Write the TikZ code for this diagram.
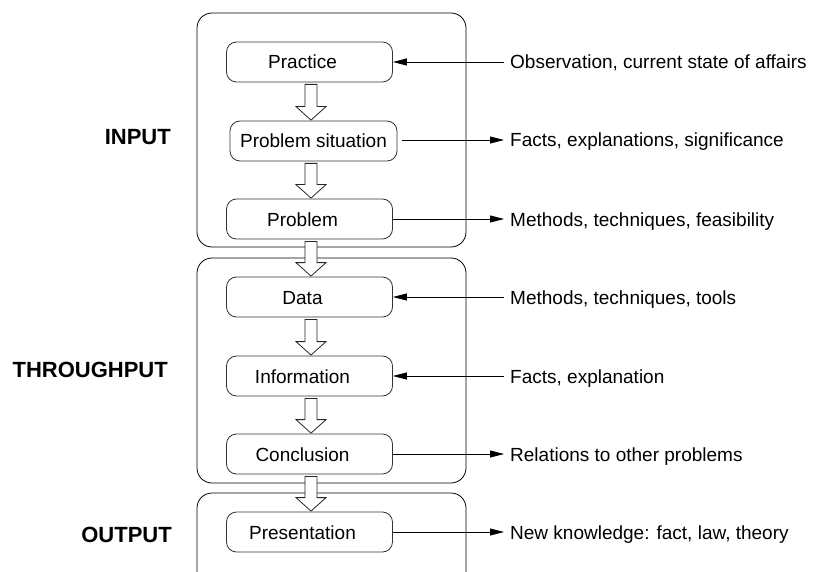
\documentclass[tikz,border=0pt]{standalone}
\usepackage{fontspec}
\setmainfont{Liberation Sans}
\usetikzlibrary{arrows.meta,calc}

% block arrow between two stacked stages, drawn on the column axis
\newcommand\blockarrow[2]{%
  \path let \p1=(#1.south), \p2=(#2.north), \p3=(axis) in
    [draw=black!85, fill=white, line width=0.8pt, line join=miter]
    (\x3-6pt,  \y1-2pt) -- (\x3+6pt,  \y1-2pt) -- (\x3+6pt,  \y2+14pt) --
    (\x3+15pt, \y2+14pt) -- (\x3, \y2+0.5pt) -- (\x3-15pt, \y2+14pt) --
    (\x3-6pt,  \y2+14pt) -- cycle;}

\begin{document}
\begin{tikzpicture}[x=1pt,y=-1pt,
  every node/.style={font=\fontsize{19}{23}\selectfont},
  stagebox/.style={draw=black!80, line width=0.8pt, rounded corners=10pt,
    minimum width=166pt, minimum height=40pt, inner sep=0pt,
    text height=14pt, text depth=0pt},
  stage/.style={stagebox, execute at end node={\hspace*{14pt}}},
  phase/.style={draw=black, line width=0.8pt, rounded corners=15pt,
    minimum width=269pt, inner sep=0pt},
  phaselabel/.style={font=\fontsize{22}{26}\selectfont\bfseries,
    anchor=base east, inner sep=0pt},
  note/.style={anchor=west, inner xsep=6pt, inner ysep=0pt,
    text height=14pt, text depth=0pt},
  link/.style={line width=0.8pt, -{Triangle[length=14pt,width=7pt]}},
]
\useasboundingbox (0,0) rectangle (816,572);
\clip (0,0) rectangle (816,572);

% phase frames
\node[phase, minimum height=234pt] (inputbox)   at (331.5,130)   {};
\node[phase, minimum height=225pt] (throughbox) at (331.5,370.5) {};
\node[phase, minimum height=130pt] (outputbox)  at (331.5,558)   {};

% phase names
\node[phaselabel] (inlbl)      at (171,145) {INPUT};
\node[phaselabel] (throughlbl) at (168,377) {THROUGHPUT};
\node[phaselabel] (outlbl)     at (172,542) {OUTPUT};

% stages
\coordinate (axis) at (311,0);
\node[stage] (practice)     at (309.5,62)  {Practice};
\node[stagebox, minimum width=167pt] (situation) at (313.5,141) {Problem situation};
\node[stage] (problem)      at (309.5,219) {Problem};
\node[stage] (data)         at (309.5,297) {Data};
\node[stage] (information)  at (309.5,376) {Information};
\node[stage] (conclusion)   at (309.5,454) {Conclusion};
\node[stage] (presentation) at (309.5,532) {Presentation};

% flow between stages
\blockarrow{practice}{situation}
\blockarrow{situation}{problem}
\blockarrow{problem}{data}
\blockarrow{data}{information}
\blockarrow{information}{conclusion}
\blockarrow{conclusion}{presentation}

% side notes
\node[note] (obs)   at (504,62)  {Observation, current state of affairs};
\node[note] (facts) at (504,140) {Facts, explanations, significance};
\node[note] (meth)  at (504,219) {Methods, techniques, feasibility};
\node[note] (tools) at (504,297) {Methods, techniques, tools};
\node[note] (expl)  at (504,376) {Facts, explanation};
\node[note] (rel)   at (504,454) {Relations to other problems};
\node[note] (know)  at (504,532) {New knowledge: fact, law, theory};

\draw[link] (obs.west) -- (practice.east);
\draw[link, shorten <=5pt] (situation.east |- facts.west) -- (facts.west);
\draw[link] (problem.east) -- (meth.west);
\draw[link] (tools.west) -- (data.east);
\draw[link] (expl.west) -- (information.east);
\draw[link] (conclusion.east) -- (rel.west);
\draw[link] (presentation.east) -- (know.west);
\end{tikzpicture}
\end{document}
